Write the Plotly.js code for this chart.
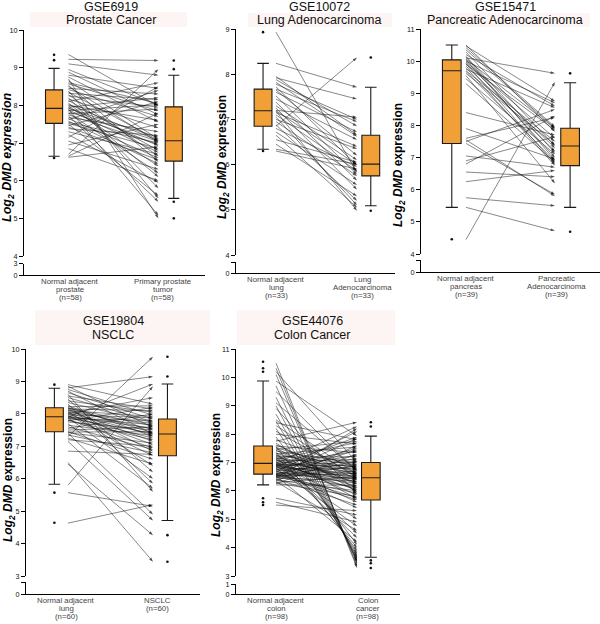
<!DOCTYPE html>
<html><head><meta charset="utf-8">
<script src="https://cdn.plot.ly/plotly-3.0.1.min.js"></script>
<style>html,body{margin:0;padding:0;background:#fff}#chart{width:600px;height:624px}</style>
</head><body><div id="chart"></div>
<script>
// ---------- data ----------
const datasetIds = ['GSE6919','GSE10072','GSE15471','GSE19804','GSE44076'];
const cancerNames = ['Prostate Cancer','Lung Adenocarcinoma','Pancreatic Adenocarcinoma','NSCLC','Colon Cancer'];
const normalLabels = ['Normal adjacent<br>prostate<br>(n=58)','Normal adjacent<br>lung<br>(n=33)','Normal adjacent<br>pancreas<br>(n=39)','Normal adjacent<br>lung<br>(n=60)','Normal adjacent<br>colon<br>(n=98)'];
const tumorLabels = ['Primary prostate<br>tumor<br>(n=58)','Lung<br>Adenocarcinoma<br>(n=33)','Pancreatic<br>Adenocarcinoma<br>(n=39)','NSCLC<br>(n=60)','Colon<br>cancer<br>(n=98)'];

// paired values (normal -> tumor)
const p1Normal = [6.62,6.65,6.7,6.85,6.95,7.05,7.15,7.22,7.3,7.38,7.42,7.46,7.5,7.52,7.55,7.58,7.62,7.65,7.68,7.72,7.75,7.78,7.8,7.83,7.86,7.88,7.9,7.92,7.93,7.95,7.98,8.0,8.03,8.06,8.1,8.13,8.17,8.2,8.25,8.28,8.32,8.35,8.38,8.42,8.45,8.5,8.53,8.57,8.6,8.65,8.7,8.75,8.8,8.88,8.95,9.1,9.22,9.35];
const p1Tumor  = [6.9,7.8,8.96,6.0,7.5,6.3,8.5,5.95,6.7,7.2,6.55,8.1,5.6,6.85,7.0,6.45,8.4,6.6,7.3,5.44,6.96,7.9,6.2,7.04,8.02,6.75,5.08,7.15,6.93,8.2,6.38,7.6,7.06,6.1,8.6,6.8,7.4,5.8,7.95,6.65,8.15,7.07,5.53,7.7,8.3,7.02,6.5,7.85,8.05,7.1,5.0,7.55,8.45,7.75,8.0,8.8,9.19,7.98];
const p2Normal = [6.3,6.34,6.45,6.55,6.65,6.72,6.8,6.85,6.88,6.95,7.0,7.05,7.1,7.15,7.18,7.19,7.2,7.25,7.3,7.38,7.45,7.52,7.6,7.65,7.67,7.72,7.78,7.82,7.88,7.92,7.95,8.24,8.93];
const p2Tumor  = [5.9,6.01,5.3,6.05,5.05,5.55,5.95,8.37,5.2,5.75,6.35,5.1,5.86,6.4,4.98,6.0,7.05,5.45,6.1,5.65,6.55,5.78,6.72,6.2,6.95,5.98,7.0,6.62,6.85,7.45,6.65,7.71,5.82];
const p3Normal = [4.45,5.45,5.75,6.25,6.55,6.8,6.9,7.05,7.44,7.5,7.55,7.6,7.9,8.4,9.3,9.45,9.55,9.62,9.68,9.7,9.75,9.8,9.85,9.9,9.92,9.95,9.98,10.0,10.04,10.06,10.1,10.12,10.15,10.2,10.28,10.35,10.42,10.47,10.5];
const p3Tumor  = [9.35,4.72,5.5,6.6,6.4,8.3,7.65,6.7,5.85,8.5,5.8,8.25,6.95,7.7,6.85,7.1,6.2,7.4,6.88,7.5,8.55,6.75,7.2,7.85,6.8,7.3,7.6,8.7,7.0,7.9,9.62,6.92,7.15,8.6,7.36,7.91,7.95,8.75,7.8];
const p4Normal = [4.63,5.57,5.8,6.45,6.5,6.85,7.15,7.2,7.25,7.3,7.35,7.4,7.42,7.44,7.45,7.5,7.55,7.6,7.65,7.7,7.75,7.78,7.8,7.82,7.85,7.87,7.88,7.9,7.9,7.91,7.93,7.95,7.97,8.0,8.0,8.02,8.05,8.07,8.1,8.1,8.12,8.15,8.17,8.18,8.19,8.22,8.25,8.3,8.35,8.4,8.45,8.5,8.55,8.6,8.65,8.7,8.75,8.8,8.85,8.9];
const p4Tumor  = [5.2,5.15,8.85,4.26,3.44,6.75,4.71,7.0,6.45,9.76,6.8,4.9,7.1,7.45,6.6,7.6,8.0,6.9,7.33,5.7,7.5,8.2,7.2,6.95,7.8,7.4,6.0,7.66,8.92,7.25,7.55,6.71,7.88,7.05,8.5,7.36,7.7,6.4,7.92,7.15,7.52,8.1,6.85,7.63,7.42,8.25,7.3,5.85,7.73,8.05,6.2,7.76,8.15,5.6,7.84,7.38,7.96,9.15,7.58,8.3];
const p5Normal = [5.5,5.6,5.74,6.21,6.25,6.28,6.3,6.33,6.35,6.38,6.4,6.42,6.44,6.46,6.48,6.5,6.51,6.52,6.53,6.54,6.55,6.56,6.57,6.58,6.59,6.6,6.62,6.64,6.66,6.68,6.7,6.72,6.74,6.76,6.78,6.8,6.82,6.84,6.85,6.86,6.88,6.89,6.9,6.91,6.92,6.93,6.94,6.95,6.96,6.97,7.0,7.02,7.04,7.06,7.08,7.1,7.12,7.14,7.16,7.18,7.2,7.22,7.25,7.28,7.3,7.33,7.36,7.4,7.43,7.46,7.5,7.53,7.56,7.58,7.62,7.68,7.75,7.8,7.9,8.0,8.1,8.2,8.3,8.4,8.45,8.5,8.7,8.9,9.0,9.1,9.3,9.5,9.7,9.87,10.1,10.2,10.32,10.5];
const p5Tumor  = [5.3,4.9,5.15,6.2,7.3,5.8,6.5,4.6,7.6,6.0,6.9,5.5,8.2,6.35,7.05,5.92,6.62,7.45,4.2,6.7,6.13,7.85,6.44,5.68,6.86,7.15,5.76,6.54,8.1,6.26,6.95,5.4,7.5,6.4,6.78,4.75,7.25,6.06,6.6,7.9,6.32,5.0,7.02,6.46,6.88,5.6,7.4,6.16,6.66,8.27,6.03,6.75,4.35,7.1,6.48,5.85,7.7,6.38,6.83,4.5,7.2,6.29,6.93,5.72,7.55,6.56,4.0,6.98,6.23,7.75,6.1,6.64,3.9,7.35,6.42,5.96,8.42,6.8,4.1,7.65,6.52,3.8,6.45,7.8,3.72,6.58,3.66,5.88,3.6,6.72,3.55,6.68,3.5,7.93,3.45,7.0,3.35,3.28];

// box statistics [lower whisker, q1, median, q3, upper whisker]
const p1NormalBox = [6.65,7.52,7.92,8.41,8.98], p1TumorBox = [5.53,6.52,7.06,7.96,8.8];
const p2NormalBox = [6.34,6.85,7.19,7.67,8.24], p2TumorBox = [5.09,5.75,6.01,6.65,7.71];
const p3NormalBox = [5.45,7.44,9.7,10.04,10.5], p3TumorBox = [5.45,6.75,7.36,7.91,9.33];
const p4NormalBox = [5.83,7.45,7.91,8.19,8.79], p4TumorBox = [4.71,6.71,7.38,7.84,8.92];
const p5NormalBox = [6.21,6.59,6.97,7.58,9.87], p5TumorBox = [3.66,5.68,6.46,7.0,7.93];
// outliers
const p1NormalOut = [9.34,9.2,6.6], p1TumorOut = [9.19,8.96,5.44,5.0];
const p2NormalOut = [8.93,6.3], p2TumorOut = [8.37,4.98];
const p3NormalOut = [4.46], p3TumorOut = [9.62,4.69];
const p4NormalOut = [8.9,5.57,4.64], p4TumorOut = [9.76,9.15,4.26,3.44];
const p5NormalOut = [10.55,10.32,10.2,5.74,5.6,5.5], p5TumorOut = [8.42,8.27,3.55,3.45,3.28];
// axis ticks
const p1YTicks = [4,5,6,7,8,9,10], p1LowTicks = [0,3], p1LowText = ['0','3'];
const p2YTicks = [4,5,6,7,8,9], p2LowTicks = [0,1], p2LowText = ['0',''];
const p3YTicks = [4,5,6,7,8,9,10,11], p3LowTicks = [0,1], p3LowText = ['0',''];
const p4YTicks = [3,4,5,6,7,8,9,10], p4LowTicks = [0,1], p4LowText = ['0',''];
const p5YTicks = [3,4,5,6,7,8,9,10,11], p5LowTicks = [0,1], p5LowText = ['0','1'];

const panels = [
  {normal:p1Normal,tumor:p1Tumor,nBox:p1NormalBox,tBox:p1TumorBox,nOut:p1NormalOut,tOut:p1TumorOut,yTicks:p1YTicks,lowTicks:p1LowTicks,lowText:p1LowText},
  {normal:p2Normal,tumor:p2Tumor,nBox:p2NormalBox,tBox:p2TumorBox,nOut:p2NormalOut,tOut:p2TumorOut,yTicks:p2YTicks,lowTicks:p2LowTicks,lowText:p2LowText},
  {normal:p3Normal,tumor:p3Tumor,nBox:p3NormalBox,tBox:p3TumorBox,nOut:p3NormalOut,tOut:p3TumorOut,yTicks:p3YTicks,lowTicks:p3LowTicks,lowText:p3LowText},
  {normal:p4Normal,tumor:p4Tumor,nBox:p4NormalBox,tBox:p4TumorBox,nOut:p4NormalOut,tOut:p4TumorOut,yTicks:p4YTicks,lowTicks:p4LowTicks,lowText:p4LowText},
  {normal:p5Normal,tumor:p5Tumor,nBox:p5NormalBox,tBox:p5TumorBox,nOut:p5NormalOut,tOut:p5TumorOut,yTicks:p5YTicks,lowTicks:p5LowTicks,lowText:p5LowText}
];

// ---------- layout geometry (pixels) ----------
const geo = [
  {xPx:[24,205], xr:[-0.494,1.517], mainPx:[256,30], lowPx:[275,263.5], tickPos:[0.02,1.05], boxW:0.19, tx:111, ty:[7,20], band:[30,187,12,27], yt:[8,157], ytSize:12.5, italicAll:true},
  {xPx:[236,395], xr:[-0.494,1.469], mainPx:[255,29], lowPx:[273,262], tickPos:[0,1.07], boxW:0.22, tx:319, ty:[7,20], band:[248,392,13,27], yt:[223,157], ytSize:12, italicAll:false},
  {xPx:[421,600], xr:[-0.506,1.506], mainPx:[254,29], lowPx:[272,260], tickPos:[0,1.02], boxW:0.21, tx:505, ty:[7,20], band:[428,590,13,27], yt:[399,165], ytSize:12, italicAll:false},
  {xPx:[26,200], xr:[-0.494,1.553], mainPx:[576,349], lowPx:[594,582], tickPos:[-0.02,1.05], boxW:0.21, tx:113, ty:[321,335], band:[35,210,310,345], yt:[9,480], ytSize:12, italicAll:false},
  {xPx:[236,400], xr:[-0.494,1.53], mainPx:[576,349], lowPx:[594,584], tickPos:[0,1.13], boxW:0.23, tx:312, ty:[321,335], band:[237,395,310,345], yt:[217,475], ytSize:12, italicAll:false}
];
const W = 600, H = 624;
const fx = v => v / W, fy = v => 1 - v / H;
const boxPos = [-0.16, 1.17];
const FONT = 'Liberation Sans, Arial, sans-serif';
const LABEL_GAP = 6.5, LABEL_LINE = 8.2;

const traces = [];
const layout = {
  width: W, height: H, margin:{l:0,r:0,t:0,b:0}, showlegend:false,
  paper_bgcolor:'#fff', plot_bgcolor:'rgba(0,0,0,0)', hovermode:false,
  font:{family:FONT, color:'#111'}, shapes:[], annotations:[]
};

panels.forEach((p, i) => {
  const g = geo[i];
  const xa = i === 0 ? 'x' : 'x' + (i + 1);
  const ya = i === 0 ? 'y' : 'y' + (i + 1);
  const yl = 'y' + (i + 6);

  // paired lines
  const lx = [], ly = [], ms = [];
  p.normal.forEach((v, k) => { lx.push(0, 1, null); ly.push(v, p.tumor[k], null); ms.push(0, 4.5, 0); });
  traces.push({type:'scatter', mode:'lines+markers', x:lx, y:ly, xaxis:xa, yaxis:ya,
    connectgaps:false, line:{color:'rgba(20,20,20,0.85)', width:0.6},
    marker:{symbol:'arrow', angleref:'previous', size:ms, color:'#000', line:{width:0}}});

  // boxes
  [[p.nBox, boxPos[0]], [p.tBox, boxPos[1]]].forEach(([b, pos]) => {
    traces.push({type:'box', x:[pos], lowerfence:[b[0]], q1:[b[1]], median:[b[2]], q3:[b[3]], upperfence:[b[4]],
      xaxis:xa, yaxis:ya, width:g.boxW, whiskerwidth:0.65, boxpoints:false,
      fillcolor:'#F0A036', line:{color:'#1a1a1a', width:1.1}});
  });
  // outliers
  traces.push({type:'scatter', mode:'markers', xaxis:xa, yaxis:ya,
    x: p.nOut.map(() => boxPos[0]).concat(p.tOut.map(() => boxPos[1])),
    y: p.nOut.concat(p.tOut), marker:{size:2.6, color:'#111'}});
  // empty helper trace so the broken (lower) axis segment gets its own subplot
  traces.push({type:'scatter', mode:'markers', x:[null], y:[null], xaxis:xa, yaxis:yl, marker:{size:0}, hoverinfo:'skip'});

  const yMin = p.yTicks[0], yMax = p.yTicks[p.yTicks.length - 1];
  const common = {showgrid:false, zeroline:false, fixedrange:true, showline:true, linecolor:'#000', linewidth:1.1,
    ticks:'outside', ticklen:4, tickwidth:1, tickcolor:'#000', tickfont:{size:7.2, color:'#111', family:FONT}};
  layout['xaxis' + (i === 0 ? '' : i + 1)] = {domain:[fx(g.xPx[0]), fx(g.xPx[1])], range:g.xr, anchor:yl,
    showline:true, linecolor:'#000', linewidth:1, ticks:'', showgrid:false, zeroline:false, fixedrange:true,
    showticklabels:false};
  layout['yaxis' + (i === 0 ? '' : i + 1)] = Object.assign({}, common, {domain:[fy(g.mainPx[0]), fy(g.mainPx[1])],
    range:[yMin, yMax], anchor:xa, tickmode:'array', tickvals:p.yTicks, ticktext:p.yTicks.map(String)});
  layout['yaxis' + (i + 6)] = Object.assign({}, common, {domain:[fy(g.lowPx[0]), fy(g.lowPx[1])],
    range:[p.lowTicks[0], p.lowTicks[p.lowTicks.length - 1]], anchor:xa, tickmode:'array', tickvals:p.lowTicks, ticktext:p.lowText});

  // category labels under the axis, placed at the category positions of the x axis
  [normalLabels[i], tumorLabels[i]].forEach((lab, c) => {
    lab.split('<br>').forEach((line, k) => {
      layout.annotations.push({xref:xa, yref:'paper', x:g.tickPos[c], y:fy(g.lowPx[0] + LABEL_GAP + k * LABEL_LINE),
        text:line, showarrow:false, xanchor:'center', yanchor:'middle', font:{size:7.8, color:'#444', family:FONT}});
    });
  });

  // title band + titles
  layout.shapes.push({type:'rect', xref:'paper', yref:'paper', x0:fx(g.band[0]), x1:fx(g.band[1]), y0:fy(g.band[3]), y1:fy(g.band[2]),
    fillcolor:'#fdf5f3', line:{width:0}, layer:'below'});
  layout.annotations.push({xref:'paper', yref:'paper', x:fx(g.tx), y:fy(g.ty[0]), text:datasetIds[i], showarrow:false,
    xanchor:'center', yanchor:'middle', font:{size:12.5, color:'#111', family:FONT}});
  layout.annotations.push({xref:'paper', yref:'paper', x:fx(g.tx), y:fy(g.ty[1]), text:cancerNames[i], showarrow:false,
    xanchor:'center', yanchor:'middle', font:{size:12.5, color:'#111', family:FONT}});
  // y-axis title
  const yt = g.italicAll ? '<b><i>Log<sub>2</sub> DMD expression</i></b>' : '<b><i>Log<sub>2</sub> DMD</i> expression</b>';
  layout.annotations.push({xref:'paper', yref:'paper', x:fx(g.yt[0]), y:fy(g.yt[1]), text:yt, textangle:-90, showarrow:false,
    xanchor:'center', yanchor:'middle', font:{size:g.ytSize, color:'#000', family:FONT}});
});

Plotly.newPlot('chart', traces, layout, {staticPlot:true, displayModeBar:false});
</script></body></html>
